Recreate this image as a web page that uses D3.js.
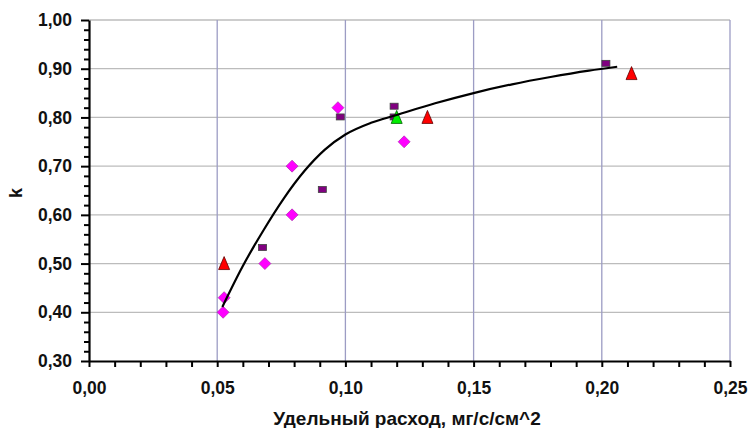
<!DOCTYPE html>
<html><head><meta charset="utf-8">
<script src="https://cdn.jsdelivr.net/npm/d3@7"></script>
<style>body{margin:0;background:#fff}svg{display:block}</style>
</head><body><svg id="c" width="750" height="428"></svg>
<script>
const xTicks = [0, 0.05, 0.10, 0.15, 0.20, 0.25];
const yTicks = [0.3, 0.4, 0.5, 0.6, 0.7, 0.8, 0.9, 1.0];
const diamondX = [0.0523, 0.0527, 0.0686, 0.0792, 0.0792, 0.0971, 0.1229];
const diamondY = [0.40, 0.43, 0.50, 0.60, 0.70, 0.82, 0.75];
const squareX = [0.0677, 0.0910, 0.0980, 0.1190, 0.1190, 0.2016];
const squareY = [0.533, 0.652, 0.801, 0.823, 0.801, 0.911];
const redTriX = [0.0527, 0.1320, 0.2116];
const redTriY = [0.50, 0.80, 0.89];
const greenTriX = [0.1200];
const greenTriY = [0.80];
const curveX = [0.052, 0.060, 0.068, 0.076, 0.084, 0.092, 0.100, 0.110, 0.120, 0.135, 0.150, 0.165, 0.180, 0.195, 0.206];
const curveY = [0.411, 0.495, 0.568, 0.634, 0.690, 0.734, 0.765, 0.789, 0.805, 0.829, 0.850, 0.868, 0.883, 0.896, 0.904];

const svg = d3.select("#c");
const L = 89, R = 730, T = 20, B = 361;
const x = d3.scaleLinear().domain([0, 0.25]).range([L, R]);
const y = d3.scaleLinear().domain([0.3, 1.0]).range([B, T]);
const fmtX = v => d3.format(".2f")(v).replace(".", ",");
const font = "'Liberation Sans', Arial, sans-serif";

// grid
svg.append("g").selectAll("line").data(yTicks.slice(1)).join("line")
  .attr("x1", L).attr("x2", R).attr("y1", d => y(d)).attr("y2", d => y(d))
  .attr("stroke", "#bcbcbc").attr("stroke-width", 1.3);
svg.append("g").selectAll("line").data(xTicks.slice(1)).join("line")
  .attr("x1", d => x(d)).attr("x2", d => x(d)).attr("y1", T).attr("y2", B)
  .attr("stroke", "#9c9cc4").attr("stroke-width", 1.3);

// axes
const xMinor = d3.range(0, 0.2501, 0.01);
const yMinor = d3.range(0.3, 1.0001, 0.02);
const xAxis = svg.append("g").attr("transform", `translate(0,${B})`);
xAxis.call(d3.axisBottom(x).tickValues(xMinor).tickFormat("").tickSize(6).tickSizeOuter(0));
xAxis.call(g => g.selectAll("line").attr("stroke", "#000").attr("stroke-width", 2));
xAxis.select(".domain").attr("stroke", "#000").attr("stroke-width", 2.2);
const xLab = svg.append("g").attr("transform", `translate(0,${B})`)
  .call(d3.axisBottom(x).tickValues(xTicks).tickFormat(fmtX).tickSize(0).tickPadding(21));
xLab.select(".domain").remove();
xLab.selectAll("text").attr("font-family", font).attr("font-weight", "bold").attr("font-size", 17.5).attr("fill", "#111");

const yAxis = svg.append("g").attr("transform", `translate(${L},0)`);
yAxis.call(d3.axisLeft(y).tickValues(yMinor).tickFormat("").tickSize(5).tickSizeOuter(0));
yAxis.call(g => g.selectAll("line").attr("stroke", "#000").attr("stroke-width", 2).attr("x2", 0).attr("x1", -5));
yAxis.call(g => g.selectAll(".tick").filter(d => Math.abs(d*10 - Math.round(d*10)) < 1e-6).select("line").attr("x1", -8));
yAxis.select(".domain").attr("stroke", "#000").attr("stroke-width", 2.2);
const yLab = svg.append("g").attr("transform", `translate(${L},0)`)
  .call(d3.axisLeft(y).tickValues(yTicks).tickFormat(fmtX).tickSize(0).tickPadding(17));
yLab.select(".domain").remove();
yLab.selectAll("text").attr("font-family", font).attr("font-weight", "bold").attr("font-size", 17.5).attr("fill", "#111");

// titles
svg.append("text").attr("x", 407).attr("y", 425).attr("text-anchor", "middle")
  .attr("font-family", font).attr("font-weight", "bold").attr("font-size", 19).attr("fill", "#111")
  .text("Удельный расход, мг/с/см^2");
svg.append("text").attr("transform", `translate(22,193) rotate(-90)`).attr("text-anchor", "middle")
  .attr("font-family", font).attr("font-weight", "bold").attr("font-size", 18).attr("fill", "#111")
  .text("k");

// markers
const dia = diamondX.map((v, i) => [v, diamondY[i]]);
svg.append("g").selectAll("path").data(dia).join("path")
  .attr("transform", d => `translate(${x(d[0])},${y(d[1])})`)
  .attr("d", "M0,-6L6,0L0,6L-6,0Z").attr("fill", "#ff00ff").attr("stroke", "#a020a0").attr("stroke-width", 0.6);
const sq = squareX.map((v, i) => [v, squareY[i]]);
svg.append("g").selectAll("rect").data(sq).join("rect")
  .attr("x", d => x(d[0]) - 4).attr("y", d => y(d[1]) - 3).attr("width", 8).attr("height", 6)
  .attr("fill", "#800080").attr("stroke", "#404040").attr("stroke-width", 0.8);
const tri = "M0,-7L5.5,6L-5.5,6Z";
svg.append("g").selectAll("path").data(redTriX.map((v, i) => [v, redTriY[i]])).join("path")
  .attr("transform", d => `translate(${x(d[0])},${y(d[1])})`)
  .attr("d", tri).attr("fill", "#ff0000").attr("stroke", "#600000").attr("stroke-width", 0.8);
svg.append("g").selectAll("path").data(greenTriX.map((v, i) => [v, greenTriY[i]])).join("path")
  .attr("transform", d => `translate(${x(d[0])},${y(d[1])})`)
  .attr("d", tri).attr("fill", "#00ee00").attr("stroke", "#006000").attr("stroke-width", 0.8);

// curve
const cur = curveX.map((v, i) => [v, curveY[i]]);
svg.append("path").datum(cur)
  .attr("d", d3.line().x(d => x(d[0])).y(d => y(d[1])).curve(d3.curveMonotoneX))
  .attr("fill", "none").attr("stroke", "#000").attr("stroke-width", 2.2);
</script></body></html>
